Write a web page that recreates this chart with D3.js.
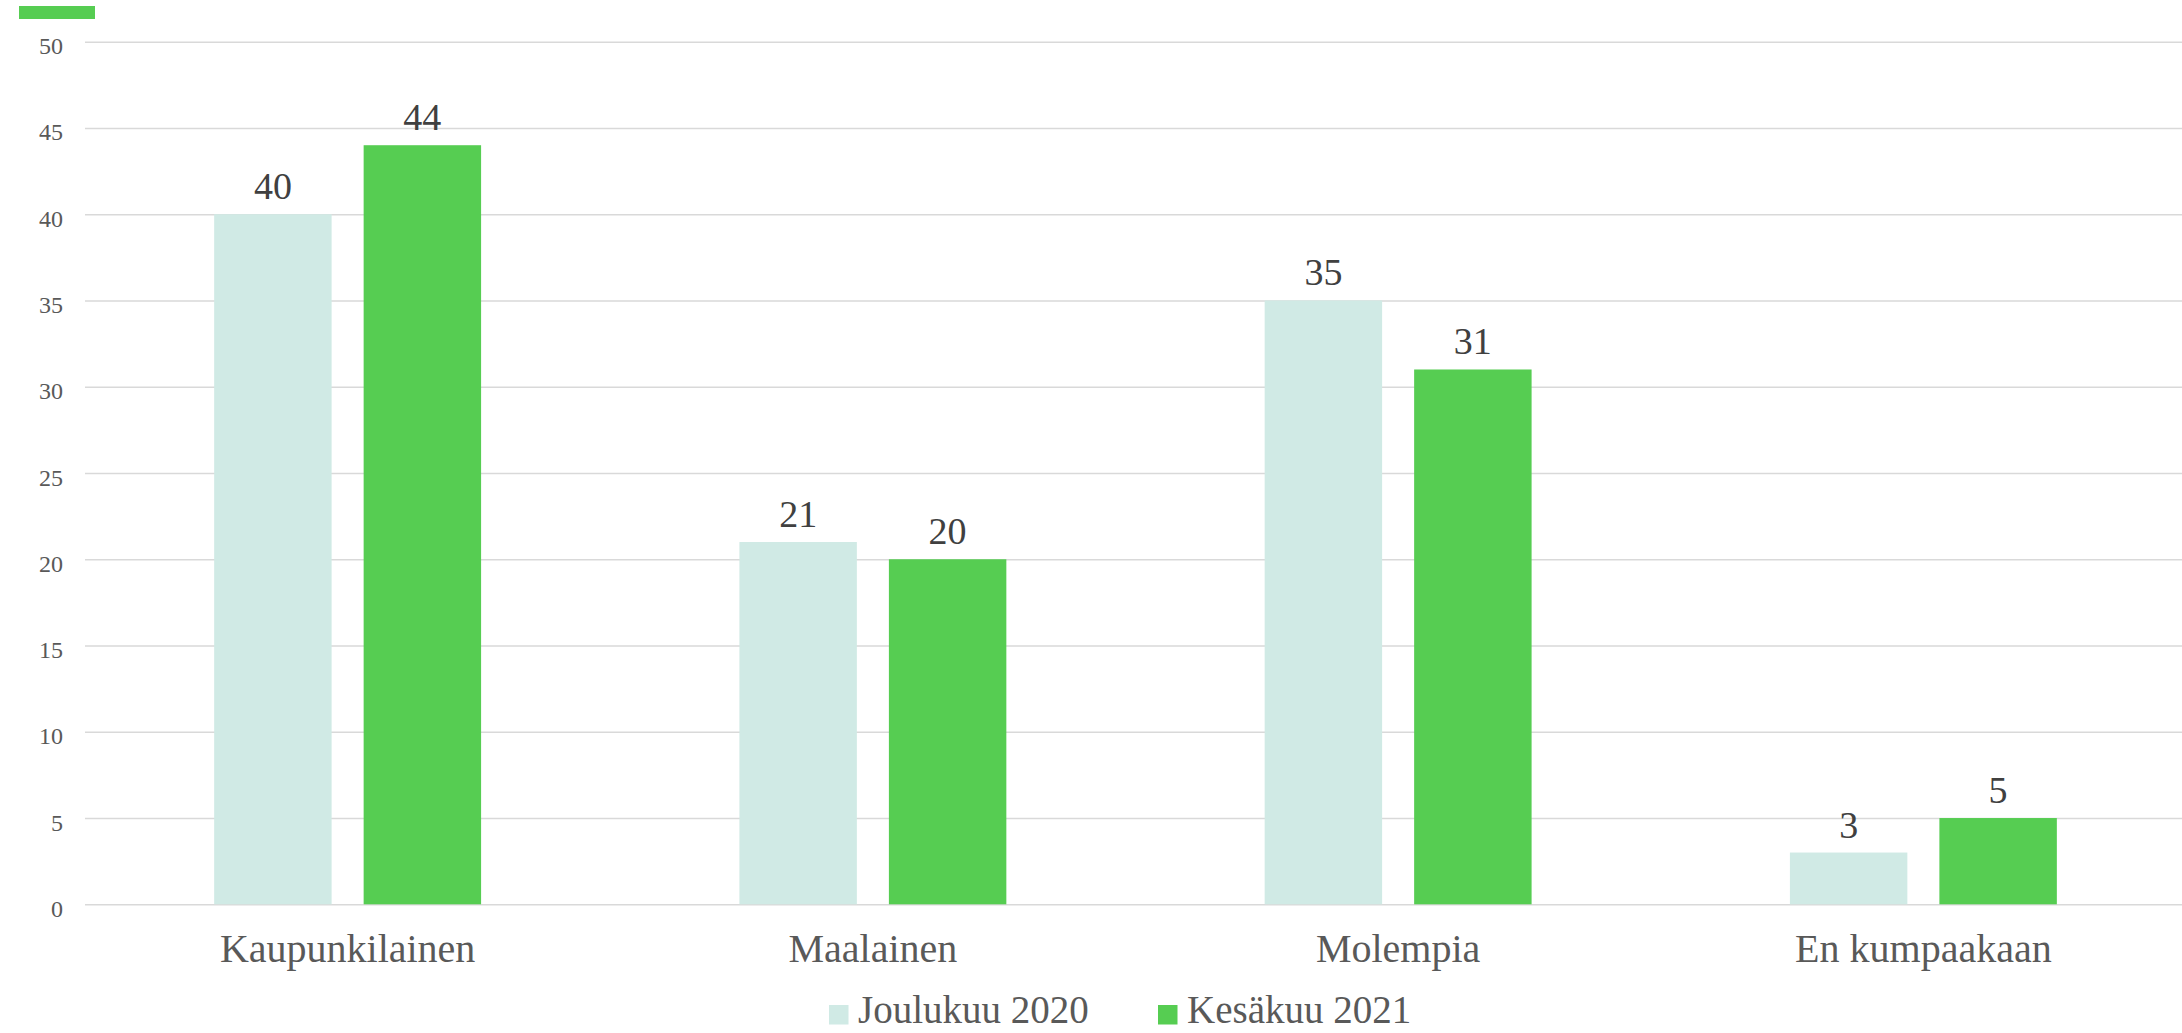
<!DOCTYPE html>
<html>
<head>
<meta charset="utf-8">
<script src="https://cdn.jsdelivr.net/npm/d3@7"></script>
<style>
  html, body { margin: 0; padding: 0; background: #fff; }
  svg { display: block; }
  text { font-family: 'Liberation Serif', 'DejaVu Serif', serif; }
</style>
</head>
<body>
<svg id="chart" width="2182" height="1033"></svg>
<script>
const categories = ["Kaupunkilainen", "Maalainen", "Molempia", "En kumpaakaan"];
const seriesNames = ["Joulukuu 2020", "Kesäkuu 2021"];
const joulukuu2020 = [40, 21, 35, 3];
const kesakuu2021 = [44, 20, 31, 5];
const yTicks = [0, 5, 10, 15, 20, 25, 30, 35, 40, 45, 50];
const seriesValues = [joulukuu2020, kesakuu2021];
const colors = ["#d0eae5", "#56cd52"];

const svg = d3.select("#chart");
const W = 2182, H = 1033;
const m = { left: 85, right: -4, top: 41.7, bottom: H - 904.3 };

const x0 = d3.scaleBand().domain(categories).range([m.left, W - m.right]).paddingInner(0).paddingOuter(0);
const x1 = d3.scaleBand().domain(seriesNames).range([0, x0.bandwidth()]).paddingInner(0.2143).paddingOuter(0.864);
const y = d3.scaleLinear().domain([0, 50]).range([904.3, 41.7]);

// top decorative bar
svg.append("rect").attr("x", 19).attr("y", 6).attr("width", 76).attr("height", 13).attr("fill", "#56cd52");

// gridlines
const yAxis = d3.axisLeft(y).tickValues(yTicks).tickSize(-(W - m.left)).tickFormat(d3.format("d"));
const gy = svg.append("g").attr("transform", `translate(${m.left},0)`).call(yAxis);
gy.select(".domain").remove();
gy.selectAll(".tick line").attr("stroke", "#d9d9d9").attr("stroke-width", 1.5);
gy.selectAll(".tick text")
  .attr("x", -22).attr("dy", "12").attr("fill", "#595959")
  .style("font-size", "24px").style("font-family", "'Liberation Serif', serif");

// bars
const data = [];
categories.forEach((c, i) => seriesNames.forEach((s, j) => data.push({ c, s, v: seriesValues[j][i], j })));

svg.append("g").selectAll("rect").data(data).join("rect")
  .attr("x", d => x0(d.c) + x1(d.s))
  .attr("y", d => y(d.v))
  .attr("width", x1.bandwidth())
  .attr("height", d => y(0) - y(d.v))
  .attr("fill", d => colors[d.j]);

// value labels
svg.append("g").selectAll("text").data(data).join("text")
  .attr("x", d => x0(d.c) + x1(d.s) + x1.bandwidth() / 2)
  .attr("y", d => y(d.v) - 15)
  .attr("text-anchor", "middle")
  .attr("fill", "#404040")
  .style("font-size", "38px")
  .text(d => d.v);

// category labels
const xAxis = d3.axisBottom(x0).tickSize(0);
const gx = svg.append("g").attr("transform", `translate(0,${y(0)})`).call(xAxis);
gx.select(".domain").remove();
gx.selectAll(".tick text")
  .attr("y", 0).attr("dy", "58").attr("fill", "#595959")
  .style("font-size", "40px").style("font-family", "'Liberation Serif', serif");

// legend
const legendX = [829, 1158];
const lg = svg.append("g").selectAll("g").data(seriesNames).join("g")
  .attr("transform", (d, i) => `translate(${legendX[i]},0)`);
lg.append("rect").attr("x", 0).attr("y", 1005).attr("width", 19.5).attr("height", 19.5).attr("fill", (d, i) => colors[i]);
lg.append("text").attr("x", 29).attr("y", 1023).attr("fill", "#595959")
  .style("font-size", "39px").text(d => d);
</script>
</body>
</html>
